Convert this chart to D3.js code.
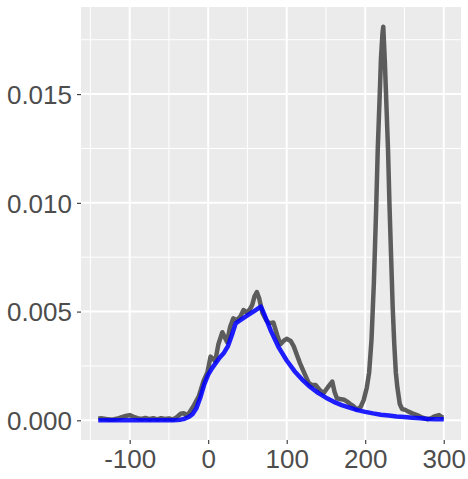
<!DOCTYPE html>
<html>
<head>
<meta charset="utf-8">
<script src="https://cdn.jsdelivr.net/npm/d3@7"></script>
<style>
  body { margin: 0; background: #fff; }
  .tick text { font-family: "Liberation Sans", Arial, sans-serif; }
</style>
</head>
<body>
<script>
// density estimate (grey) and fitted curve (blue)
var densX = [-140,-135,-130,-125,-120,-115,-110,-105,-100,-95,-90,-85,-80,-75,-70,-65,-60,-55,-50,-45,-40,-35,-31,-28,-24,-18,-12,-6,-1,3,9,13,18,24,28,32,36,41,45,49,53,56,59,62,65,69,74,78,83,88,92,96,100,105,109,113,117,122,128,132,137,142,147,152,158,161,164,168,173,177,181,185,189,194,198,202,205,208,211,214,216,219,220,222,223,225,226,229,231,233,235,237,239,241,244,247,251,255,260,266,272,279,284,288,294,298,300];
var densY = [0.00008,0.00009,0.00006,0.00004,0.00005,0.00008,0.00015,0.00020,0.00024,0.00016,0.00010,0.00006,0.00011,0.00005,0.00010,0.00004,0.00010,0.00006,0.00009,0.00004,0.00014,0.00030,0.00033,0.00022,0.00035,0.00070,0.00110,0.00180,0.00220,0.00293,0.00272,0.00350,0.00405,0.00360,0.00430,0.00469,0.00460,0.00477,0.00507,0.00495,0.00510,0.00530,0.00570,0.00590,0.00560,0.00495,0.00460,0.00446,0.00450,0.00390,0.00350,0.00365,0.00375,0.00365,0.00340,0.00300,0.00262,0.00220,0.00172,0.00162,0.00162,0.00140,0.00125,0.00150,0.00178,0.00130,0.00101,0.00098,0.00095,0.00086,0.00075,0.00065,0.00050,0.00060,0.00093,0.00150,0.00220,0.00370,0.00630,0.00980,0.01250,0.01550,0.01660,0.01780,0.01810,0.01650,0.01550,0.01250,0.00980,0.00750,0.00520,0.00350,0.00220,0.00150,0.00075,0.00052,0.00048,0.00040,0.00032,0.00024,0.00014,0.00005,0.00010,0.00018,0.00024,0.00014,0.00014];

var fitX = [-140,-120,-100,-80,-60,-45,-40,-35,-30,-25,-20,-15,-10,-5,0,5,10,15,20,25,30,35,40,50,60,67,70,80,90,100,110,120,130,140,150,160,170,180,190,200,210,220,230,240,250,260,270,280,290,300];
var fitY = [0,0,0,0,0,0,0.00001,0.00003,0.00007,0.00015,0.00028,0.00055,0.00105,0.00165,0.00210,0.00240,0.00265,0.00290,0.00310,0.00340,0.00390,0.00446,0.00458,0.00482,0.00506,0.00523,0.00500,0.00410,0.00334,0.00275,0.00226,0.00186,0.00153,0.00126,0.00104,0.00085,0.00070,0.00058,0.00047,0.00039,0.00032,0.00026,0.00022,0.00018,0.00015,0.00012,0.00010,0.00006,0.00005,0.00005];

var xTicks = [-100, 0, 100, 200, 300];
var xMinor = [-150, -50, 50, 150, 250];
var yTicks = [0, 0.005, 0.010, 0.015];
var yMinor = [0.0025, 0.0075, 0.0125, 0.0175];

var W = 468, H = 479;
var margin = {top: 7, right: 7, bottom: 39, left: 81};
var w = W - margin.left - margin.right;
var h = H - margin.top - margin.bottom;

var svg = d3.select("body").append("svg")
            .attr("width", W)
            .attr("height", H);

// ggplot style expansion of 5% on each side
var xr = [-140, 300], yr = [0, 0.0181];
var xPad = (xr[1] - xr[0]) * 0.05, yPad = (yr[1] - yr[0]) * 0.05;
var xScale = d3.scaleLinear().domain([xr[0] - xPad, xr[1] + xPad]).range([0, w]);
var yScale = d3.scaleLinear().domain([yr[0] - yPad, yr[1] + yPad]).range([h, 0]);

var focus = svg.append("g")
               .attr("transform", "translate(" + margin.left + "," + margin.top + ")");

focus.append("rect")
     .attr("width", w).attr("height", h)
     .attr("fill", "#ebebeb");

// minor grid
focus.selectAll(".gx-minor").data(xMinor).enter().append("line")
     .attr("x1", function(d) { return xScale(d); }).attr("x2", function(d) { return xScale(d); })
     .attr("y1", 0).attr("y2", h)
     .attr("stroke", "#fff").attr("stroke-width", 1);
focus.selectAll(".gy-minor").data(yMinor).enter().append("line")
     .attr("y1", function(d) { return yScale(d); }).attr("y2", function(d) { return yScale(d); })
     .attr("x1", 0).attr("x2", w)
     .attr("stroke", "#fff").attr("stroke-width", 1);
// major grid
focus.selectAll(".gx").data(xTicks).enter().append("line")
     .attr("x1", function(d) { return xScale(d); }).attr("x2", function(d) { return xScale(d); })
     .attr("y1", 0).attr("y2", h)
     .attr("stroke", "#fff").attr("stroke-width", 2);
focus.selectAll(".gy").data(yTicks).enter().append("line")
     .attr("y1", function(d) { return yScale(d); }).attr("y2", function(d) { return yScale(d); })
     .attr("x1", 0).attr("x2", w)
     .attr("stroke", "#fff").attr("stroke-width", 2);

var densData = densX.map(function(x, i) { return [x, densY[i]]; });
var fitData = fitX.map(function(x, i) { return [x, fitY[i]]; });

var line = d3.line()
             .x(function(d) { return xScale(d[0]); })
             .y(function(d) { return yScale(d[1]); });

focus.append("path")
     .datum(densData)
     .attr("d", line)
     .attr("fill", "none")
     .attr("stroke", "#4d4d4d")
     .attr("stroke-opacity", 0.9)
     .attr("stroke-width", 4.5)
     .attr("stroke-linejoin", "round");

focus.append("path")
     .datum(fitData)
     .attr("d", line)
     .attr("fill", "none")
     .attr("stroke", "#0000ff")
     .attr("stroke-opacity", 0.88)
     .attr("stroke-width", 4.5)
     .attr("stroke-linejoin", "round");

// axes
var xAxis = focus.append("g")
     .attr("transform", "translate(0," + h + ")")
     .call(d3.axisBottom(xScale).tickValues(xTicks).tickSize(4).tickPadding(6).tickFormat(function(d) { return String(d); }));
var yAxis = focus.append("g")
     .call(d3.axisLeft(yScale).tickValues(yTicks).tickSize(4).tickPadding(5).tickFormat(d3.format(".3f")));

[xAxis, yAxis].forEach(function(a) {
  a.select(".domain").remove();
  a.selectAll(".tick line").attr("stroke", "#333").attr("stroke-width", 1.1);
  a.selectAll(".tick text").attr("fill", "#4d4d4d").style("font-size", "26px");
});
yAxis.selectAll(".tick text").attr("dy", "0.36em");
</script>
</body>
</html>
